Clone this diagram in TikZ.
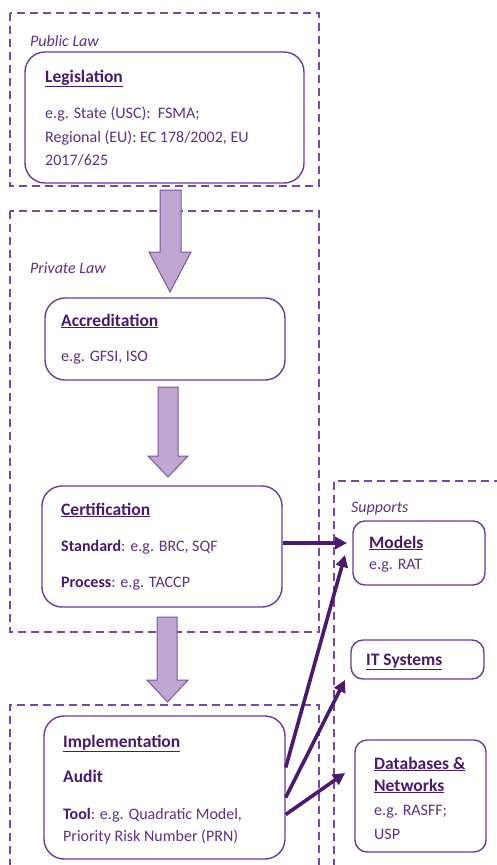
\documentclass[tikz,border=0pt]{standalone}
\usepackage{fontspec}
\setmainfont{Carlito}
\usetikzlibrary{arrows.meta,calc}
\definecolor{dpurple}{HTML}{4B1A6B}
\definecolor{tpurple}{HTML}{5E3380}
\definecolor{bpurple}{HTML}{6E3E8E}
\definecolor{cpurple}{HTML}{7A4A9A}
\definecolor{afill}{HTML}{BFA7D1}
\definecolor{aline}{HTML}{7B579B}
\newcommand{\hd}[1]{\textbf{\underline{#1}}}
\tikzset{
  container/.style={draw=cpurple, line width=1.1pt, dash pattern=on 8pt off 5pt},
  box/.style={draw=bpurple, line width=1.4pt, rounded corners=20pt, inner sep=0pt},
  sbox/.style={draw=bpurple, line width=1.4pt, rounded corners=12pt, inner sep=0pt},
  txt/.style={anchor=base west, inner sep=0pt, text=tpurple, font=\fontsize{16}{18}\selectfont},
  htxt/.style={txt, text=dpurple, font=\fontsize{17.5}{20}\selectfont},
  itl/.style={txt, font=\fontsize{16}{18}\selectfont\itshape},
  blockarrow/.style={fill=afill, draw=aline, line width=1pt},
  link/.style={draw=dpurple, line width=3.6pt, -{Triangle[length=12pt,width=12pt]}}
}
\begin{document}
\begin{tikzpicture}[x=1pt,y=-1pt]
\useasboundingbox (0,0) rectangle (497,865);
\fill[white] (0,0) rectangle (497,865);
\clip (0,0) rectangle (497,865);

% containers
\draw[container] (10,13) rectangle (319,186);
\draw[container] (10,211) rectangle (319,632);
\draw[container] (10,880) -- (10,705) -- (319,705) -- (319,880);
\draw[container] (334,880) -- (334,481) -- (510,481);

% block arrows
\draw[blockarrow] (160,190) -- (181,190) -- (181,252) -- (191,252) -- (170,292) -- (149,252) -- (160,252) -- cycle;
\draw[blockarrow] (158,387) -- (178,387) -- (178,456) -- (188,456) -- (168,477) -- (148,456) -- (158,456) -- cycle;
\draw[blockarrow] (157,617) -- (177,617) -- (177,680) -- (188,680) -- (167.5,702) -- (147,680) -- (157,680) -- cycle;

% boxes
\node[box, minimum width=279pt, minimum height=131pt] (leg) at (164.5,117.5) {};
\node[box, minimum width=240pt, minimum height=82pt] (acc) at (165,339) {};
\node[box, minimum width=240pt, minimum height=121pt] (cert) at (162,546.5) {};
\node[box, minimum width=241pt, minimum height=143pt] (impl) at (164.5,787.5) {};
\node[sbox, minimum width=132pt, minimum height=64pt] (mod) at (419,553) {};
\node[sbox, minimum width=133pt, minimum height=39pt] (its) at (417.5,659.5) {};
\node[sbox, minimum width=131pt, minimum height=112pt] (db) at (420.5,796) {};

% texts
\node[itl] (publ) at (30,46) {Public Law};
\node[htxt] (legh) at (45,82) {\hd{Legislation}};
\node[txt] (leg1) at (45,118) {e.g. State (USC):\ \ FSMA;};
\node[txt] (leg2) at (45,142) {Regional\ (EU): EC 178/2002, EU};
\node[txt] (leg3) at (45,165) {2017/625};

\node[itl] (priv) at (30,273) {Private Law};
\node[htxt] (acch) at (61,326) {\hd{Accreditation}};
\node[txt] (acc1) at (61,361) {e.g. GFSI, ISO};

\node[htxt] (certh) at (61,515) {\hd{Certification}};
\node[txt] (cert1) at (61,551) {\textcolor{dpurple}{\textbf{Standard}}: e.g. BRC, SQF};
\node[txt] (cert2) at (61,587) {\textcolor{dpurple}{\textbf{Process}}: e.g. TACCP};

\node[htxt] (implh) at (63,747) {\hd{Implementation}};
\node[htxt] (impl1) at (63,782) {\textbf{Audit}};
\node[txt] (impl2) at (63,819) {\textcolor{dpurple}{\textbf{Tool}}: e.g. Quadratic\ Model,};
\node[txt] (impl3) at (63,841) {Priority\ Risk Number (PRN)};

\node[itl] (supp) at (351,512) {Supports};
\node[htxt] (modh) at (369,548) {\hd{Models}};
\node[txt] (mod1) at (369,569) {e.g. RAT};
\node[htxt] (itsh) at (366,665) {\hd{IT Systems}};
\node[htxt] (dbh1) at (374,769) {\hd{Databases \&}};
\node[htxt] (dbh2) at (374,791) {\hd{Networks}};
\node[txt] (db1) at (374,815) {e.g. RASFF;};
\node[txt] (db2) at (374,839) {USP};

% links
\coordinate (t0) at (347,543);
\coordinate (t1) at (345,555);
\coordinate (t2) at (345,680);
\coordinate (t3) at (345,773);
\draw[link] (cert.east |- t0) -- (t0);
\draw[link] ([yshift=20pt]impl.east) -- (t1);
\draw[link] ([yshift=-10pt]impl.east) -- (t2);
\draw[link] ([yshift=-27pt]impl.east) -- (t3);
\end{tikzpicture}
\end{document}
